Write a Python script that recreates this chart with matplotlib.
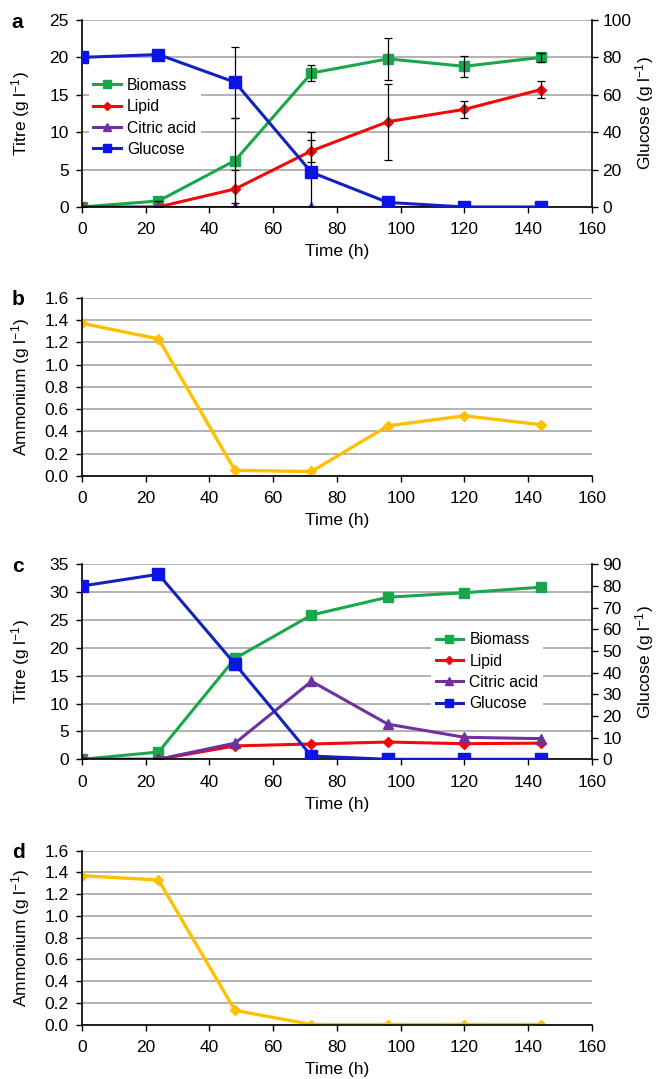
import numpy as np
import matplotlib
matplotlib.use('Agg')
import matplotlib.pyplot as plt

plt.rcParams['font.family'] = ['Liberation Sans', 'DejaVu Sans']
plt.rcParams['mathtext.fontset'] = 'custom'
plt.rcParams['mathtext.rm'] = 'Liberation Sans'
plt.rcParams['mathtext.it'] = 'Liberation Sans:italic'
plt.rcParams['font.size'] = 12

# sampling times (h)
time_h = [0, 24, 48, 72, 96, 120, 144]

# panel a
a_biomass = [0.0, 0.8, 6.2, 17.9, 19.8, 18.8, 20.0]
a_biomass_err = [0, 0, 5.7, 1.1, 2.8, 1.4, 0.6]
a_lipid = [0.0, 0.0, 2.4, 7.5, 11.4, 13.05, 15.7]
a_lipid_err = [0, 0, 2.5, 1.5, 5.1, 1.1, 1.1]
a_citric = [0.0, 0.0, 0.0, 0.0, 0.0, 0.0, 0.0]
a_glucose = [80.0, 81.5, 66.7, 18.5, 2.4, 0.0, 0.0]
a_glucose_err = [0, 0, 19.0, 21.7, 0, 0, 0]

# panel b
b_ammonium = [1.37, 1.23, 0.05, 0.04, 0.45, 0.54, 0.46]

# panel c
c_biomass = [0.0, 1.3, 18.1, 25.9, 29.1, 29.9, 30.9]
c_lipid = [0.0, 0.0, 2.4, 2.75, 3.1, 2.8, 2.9]
c_citric = [0.0, 0.0, 2.9, 14.0, 6.3, 3.95, 3.7]
c_glucose = [80.0, 85.4, 44.0, 1.5, 0.0, 0.0, 0.0]

# panel d
d_ammonium = [1.37, 1.33, 0.13, 0.0, 0.0, 0.0, 0.0]

GREEN = '#1aa64b'
RED = '#f00a0a'
PURPLE = '#7030a0'
BLUE = '#0a14e6'
BLUE_LINE = '#1420c0'
GOLD = '#ffc000'
GRID = '#a6a6a6'
unit = ' (g l$^{-1}$)'
FS = 12.5

fig = plt.figure(figsize=(6.56, 10.79), dpi=100)
L, W = 0.125, 0.7774


def style_axes(ax, ymax, ystep):
    ax.set_xlim(0, 160)
    ax.set_xticks(np.arange(0, 161, 20))
    ax.set_ylim(0, ymax)
    ax.set_yticks(np.arange(0, ymax + ystep / 2, ystep))
    ax.yaxis.grid(True, color=GRID, lw=1.2)
    ax.set_axisbelow(True)
    for s in ['top', 'right']:
        ax.spines[s].set_visible(False)
    for s in ['left', 'bottom']:
        ax.spines[s].set_linewidth(1.2)
    ax.tick_params(direction='out', length=4.5, width=1.0, labelsize=FS)
    ax.tick_params(axis='x', pad=6.5)
    ax.tick_params(axis='y', pad=5)
    ax.set_xlabel('Time (h)', fontsize=FS, labelpad=5)


def titre_panel(rect, letter, ymax, ystep, gmax, gstep, biomass, lipid, citric, glucose,
                leg_anchor, errs=None):
    ax = fig.add_axes(rect)
    style_axes(ax, ymax, ystep)
    ax2 = ax.twinx()
    ax2.set_ylim(0, gmax)
    ax2.set_yticks(np.arange(0, gmax + gstep / 2, gstep))
    for s in ['top', 'left', 'bottom']:
        ax2.spines[s].set_visible(False)
    ax2.spines['right'].set_linewidth(1.2)
    ax2.tick_params(direction='out', length=4.5, width=1.0, labelsize=FS, pad=3)

    h1, = ax.plot(time_h, biomass, color=GREEN, lw=2.2, marker='s', ms=7.5, label='Biomass')
    h2, = ax.plot(time_h, lipid, color=RED, lw=2.2, marker='D', ms=5, label='Lipid')
    h3, = ax.plot(time_h, citric, color=PURPLE, lw=2.2, marker='^', ms=7, label='Citric acid')
    h4, = ax2.plot(time_h, glucose, color=BLUE_LINE, lw=2.2, marker='s', ms=8,
                   mfc=BLUE, mec=BLUE, label='Glucose')
    if errs is not None:
        be, le, ge = errs
        ax.errorbar(time_h, biomass, yerr=be, fmt='none', ecolor='black', elinewidth=0.9,
                    capsize=3, capthick=0.9, zorder=5)
        ax.errorbar(time_h, lipid, yerr=le, fmt='none', ecolor='black', elinewidth=0.9,
                    capsize=3, capthick=0.9, zorder=5)
        ax2.errorbar(time_h, glucose, yerr=ge, fmt='none', ecolor='black', elinewidth=0.9,
                     capsize=3, capthick=0.9, zorder=1)

    ax.set_ylabel('Titre' + unit, fontsize=FS)
    ax.yaxis.set_label_coords(-0.098, 0.5)
    ax2.set_ylabel('Glucose' + unit, fontsize=FS)
    ax2.yaxis.set_label_coords(1.081, 0.5)

    ax2.legend([h1, h2, h3, h4], ['Biomass', 'Lipid', 'Citric acid', 'Glucose'],
               loc='upper left', bbox_to_anchor=leg_anchor, fontsize=11.3,
               frameon=True, fancybox=False, edgecolor='none', framealpha=1,
               borderpad=0.3, borderaxespad=0, handlelength=1.75, handletextpad=0.4,
               labelspacing=0.4, markerscale=0.8)
    fig.text(0.018, rect[1] + rect[3] - 0.002, letter, fontsize=15, fontweight='bold',
             ha='left', va='center')
    return ax


def ammonium_panel(rect, letter, values):
    ax = fig.add_axes(rect)
    style_axes(ax, 1.6, 0.2)
    ax.yaxis.set_major_formatter(matplotlib.ticker.FormatStrFormatter('%.1f'))
    ax.plot(time_h, values, color=GOLD, lw=2.4, marker='D', ms=5.5)
    ax.set_ylabel('Ammonium' + unit, fontsize=FS)
    ax.yaxis.set_label_coords(-0.098, 0.5)
    fig.text(0.018, rect[1] + rect[3] - 0.002, letter, fontsize=15, fontweight='bold',
             ha='left', va='center')
    return ax


titre_panel([L, 0.8082, W, 0.1733], 'a', 25, 5, 100, 20,
            a_biomass, a_lipid, a_citric, a_glucose, (0.013, 0.715),
            errs=(a_biomass_err, a_lipid_err, a_glucose_err))
ammonium_panel([L, 0.5589, W, 0.1652], 'b', b_ammonium)
titre_panel([L, 0.2963, W, 0.1807], 'c', 35, 5, 90, 10,
            c_biomass, c_lipid, c_citric, c_glucose, (0.684, 0.675))
ammonium_panel([L, 0.0505, W, 0.1611], 'd', d_ammonium)

fig.savefig('out.png', dpi=100)
